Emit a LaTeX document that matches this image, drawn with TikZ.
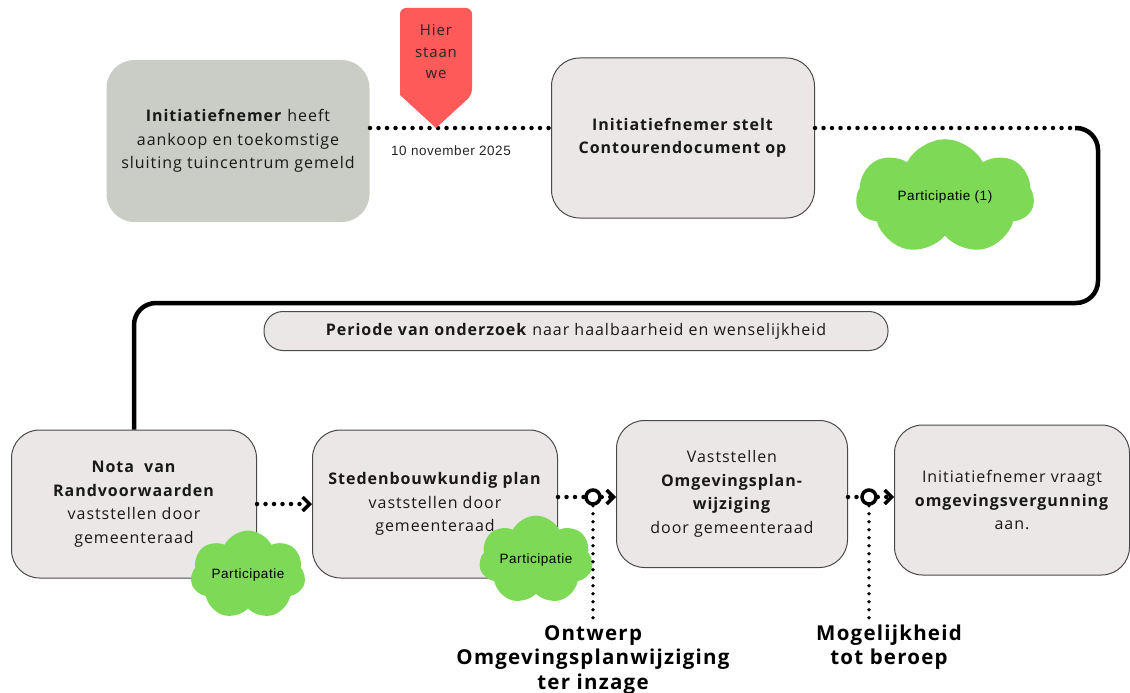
\documentclass[tikz,border=0pt]{standalone}
\usepackage{fontspec}
\setmainfont{Open Sans}[LetterSpace=6]
\newfontfamily\arialfont{Liberation Sans}[LetterSpace=4]
\usetikzlibrary{shapes.symbols,arrows.meta}
\definecolor{vakgrijs}{HTML}{EBE7E6}
\definecolor{saliegrijs}{HTML}{C9CDC5}
\definecolor{wolkgroen}{HTML}{7ED957}
\definecolor{markrood}{HTML}{FF5A5A}
\definecolor{randgrijs}{HTML}{4A4A4A}

\begin{document}
\begin{tikzpicture}[x=1pt,y=-1pt]
\tikzset{stap/.style = {draw=randgrijs,line width=1pt,fill=vakgrijs,rounded corners=28pt,align=center,minimum width=245pt,minimum height=148pt,inner sep=0pt,font=\fontsize{16}{23.5}\selectfont,text=black!90}}
\tikzset{balk/.style = {draw=randgrijs,line width=1pt,fill=vakgrijs,rounded corners=19pt,minimum width=624pt,minimum height=39pt,inner sep=0pt,font=\fontsize{16}{18}\selectfont,text=black!90}}
\tikzset{wolk/.style = {cloud,cloud puffs=7,cloud puff arc=125,aspect=1.5,fill=wolkgroen,inner sep=0pt,font=\arialfont\fontsize{13.5}{16}\selectfont}}
\tikzset{stip/.style = {line width=4.5pt,line cap=round,dash pattern=on 0pt off 8.5pt}}
\tikzset{pijl/.style = {-{Straight Barb[length=7pt,width=14pt,line width=3.5pt]}}}
\tikzset{ring/.style = {circle,draw,line width=3.5pt,fill=white,minimum size=14pt,inner sep=0pt}}
\tikzset{mijlpaal/.style = {align=center,font=\bfseries\fontsize{20.5}{24.5}\selectfont}}
\useasboundingbox (0,0) rectangle (1130,693);

% bovenste rij
\node[stap,draw=none,fill=saliegrijs,minimum width=263pt,minimum height=162pt] (initA) at (238,141) {\textbf{Initiatiefnemer} heeft\\aankoop en toekomstige\\sluiting tuincentrum gemeld};
\node[stap,minimum width=263pt,minimum height=160pt] (contour) at (683,138) {\textbf{Initiatiefnemer stelt}\\\textbf{Contourendocument op}};
\coordinate (markPunt) at (436,128);
\coordinate (bocht) at (1075,128);
\draw[stip] (initA.east |- markPunt) -- (contour.west |- markPunt);
\fill[markrood] (markPunt) -- (400,95) [rounded corners=6pt] -- (400,8) -- (472,8) -- (472,95) [sharp corners] -- cycle;
\node[align=center,font=\fontsize{15}{21.5}\selectfont,text=black!85] (hier) at (436,52) {Hier\\staan\\we};
\node[font=\arialfont\fontsize{13.5}{16}\selectfont,text=black!85] (datum) at (451,151) {10 november 2025};
\draw[stip] (contour.east |- bocht) -- (bocht);
\node[wolk,minimum width=178pt,minimum height=115pt] (wolk1) at (945,197) {Participatie (1)};

% lijn naar onderste rij
\node[balk] (periode) at (576,331) {\textbf{Periode van onderzoek} naar haalbaarheid en wenselijkheid};

% onderste rij
\node[stap] (nota) at (134,504) {\textbf{Nota\ \ van}\\\textbf{Randvoorwaarden}\\vaststellen door\\gemeenteraad};
\node[stap] (sbplan) at (435,504) {\textbf{Stedenbouwkundig plan}\\vaststellen door\\gemeenteraad};
\node[stap,minimum width=231pt,minimum height=147pt] (vaststel) at (732,494) {Vaststellen\\\textbf{Omgevingsplan-}\\\textbf{wijziging}\\door gemeenteraad};
\node[stap,minimum width=235pt,minimum height=150pt] (vergun) at (1012,500) {Initiatiefnemer vraagt\\\textbf{omgevingsvergunning}\\aan.};
\draw[line width=4.5pt,rounded corners=22pt] (bocht) -- (1098,128) -- (1098,303) -| (nota.north);

\node[wolk,minimum width=115pt,minimum height=66pt] (wolk2) at (248,575) {Participatie};
\node[wolk,minimum width=114pt,minimum height=72pt] (wolk3) at (536,560) {Participatie};

\node[ring] (ring1) at (593,497) {};
\node[ring] (ring2) at (869,497) {};
\node[mijlpaal] (ontwerp) at (593,660) {Ontwerp\\Omgevingsplanwijziging\\ter inzage};
\node[mijlpaal] (beroep) at (889,647) {Mogelijkheid\\tot beroep};

\draw[stip,pijl] (nota.east) -- (sbplan.west);
\draw[stip] (sbplan.east |- ring1) -- (ring1.west);
\draw[stip,pijl] (ring1.east) -- (vaststel.west |- ring1);
\draw[stip] (vaststel.east |- ring2) -- (ring2.west);
\draw[stip,pijl] (ring2.east) -- (vergun.west |- ring2);
\draw[stip,line width=3.8pt,dash pattern=on 0pt off 8pt] (ring1.south) -- (ontwerp.north);
\draw[stip,line width=3.8pt,dash pattern=on 0pt off 8pt] (ring2.south) -- (ring2 |- beroep.north);
\end{tikzpicture}
\end{document}
